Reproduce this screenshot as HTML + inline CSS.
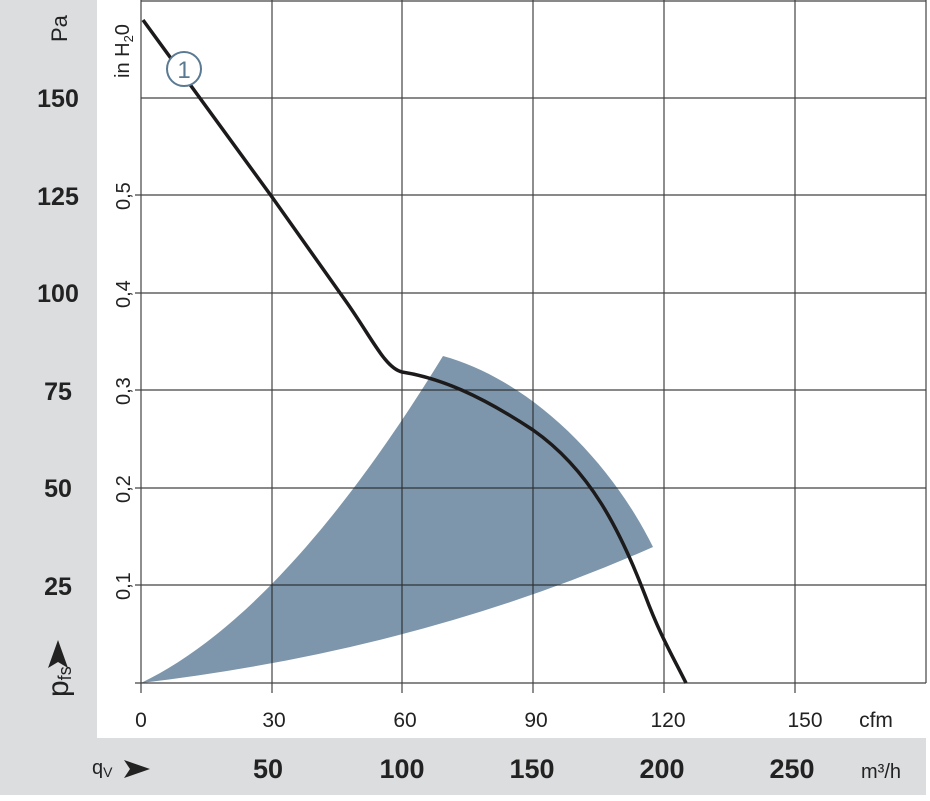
<!DOCTYPE html>
<html><head><meta charset="utf-8"><style>
html,body{margin:0;padding:0;background:#fff;}
svg{display:block;font-family:"Liberation Sans",sans-serif;}
</style></head><body>
<svg width="930" height="801" viewBox="0 0 930 801" xmlns="http://www.w3.org/2000/svg">
<rect x="0" y="0" width="930" height="801" fill="#fff"/>
<rect x="0" y="0" width="97" height="738" fill="#dcdddf"/>
<rect x="0" y="738" width="926" height="57" fill="#dcdddf"/>
<path d="M141,683 C230,640 330,540 443,356 C530,380 610,460 653,547 Q420,650 141,683 Z" fill="#7d96ab"/>
<g stroke="#222" stroke-width="1.2" fill="none" opacity="0.85">
<line x1="141" y1="0" x2="141" y2="693"/>
<line x1="272" y1="0" x2="272" y2="693"/>
<line x1="402" y1="0" x2="402" y2="693"/>
<line x1="533" y1="0" x2="533" y2="693"/>
<line x1="664" y1="0" x2="664" y2="693"/>
<line x1="795" y1="0" x2="795" y2="693"/>
<line x1="926" y1="0" x2="926" y2="683"/>
<line x1="141" y1="1" x2="926" y2="1"/>
<line x1="141" y1="98" x2="926" y2="98"/>
<line x1="135" y1="195" x2="926" y2="195"/>
<line x1="135" y1="293" x2="926" y2="293"/>
<line x1="135" y1="390" x2="926" y2="390"/>
<line x1="135" y1="488" x2="926" y2="488"/>
<line x1="135" y1="585" x2="926" y2="585"/>
<line x1="135" y1="683" x2="926" y2="683"/>
</g>
<path d="M143,20 L272,197 L345,300 C372,338 385,368 402,372 C440,378 480,395 533,430 C590,470 620,530 645,595 C660,635 672,655 686,683" fill="none" stroke="#1c1a1a" stroke-width="3.5" stroke-linejoin="round"/>
<circle cx="184" cy="69" r="17" fill="#fff" stroke="#5a7a93" stroke-width="2"/>
<text x="184" y="78" font-size="24" fill="#5a7a93" text-anchor="middle">1</text>
<g font-size="25" fill="#222" text-anchor="middle" font-weight="bold">
<text x="58" y="107">150</text>
<text x="58" y="205">125</text>
<text x="58" y="302">100</text>
<text x="58" y="400">75</text>
<text x="58" y="497">50</text>
<text x="58" y="595">25</text>
</g>
<text transform="translate(67,42) rotate(-90)" font-size="22" fill="#222">Pa</text>
<text transform="translate(68,697) rotate(-90)" font-size="30" fill="#222">p<tspan font-size="18" dy="3">fs</tspan></text>
<path d="M58,640 L48,668 L58,662 L68,668 Z" fill="#222"/>
<g font-size="20" fill="#222">
<text transform="translate(130,210) rotate(-90)">0,5</text>
<text transform="translate(130,308) rotate(-90)">0,4</text>
<text transform="translate(130,405) rotate(-90)">0,3</text>
<text transform="translate(130,503) rotate(-90)">0,2</text>
<text transform="translate(130,600) rotate(-90)">0,1</text>
<text transform="translate(129,78) rotate(-90)">in H<tspan font-size="13" dy="4">2</tspan><tspan dy="-4">0</tspan></text>
</g>
<g font-size="21" fill="#222" text-anchor="middle">
<text x="141" y="727">0</text>
<text x="274" y="727">30</text>
<text x="405" y="727">60</text>
<text x="536" y="727">90</text>
<text x="668" y="727">120</text>
<text x="805" y="727">150</text>
<text x="876" y="727">cfm</text>
</g>
<g font-size="27" fill="#222" text-anchor="middle" font-weight="bold">
<text x="268" y="778">50</text>
<text x="402" y="778">100</text>
<text x="532" y="778">150</text>
<text x="662" y="778">200</text>
<text x="792" y="778">250</text>
</g>
<text x="881" y="778" font-size="20" fill="#222" text-anchor="middle">m³/h</text>
<text x="92" y="774" font-size="20" fill="#222">q<tspan font-size="14" dy="3">V</tspan></text>
<path d="M124,760 L150,769 L124,778 L130,769 Z" fill="#222"/>
</svg>
</body></html>
